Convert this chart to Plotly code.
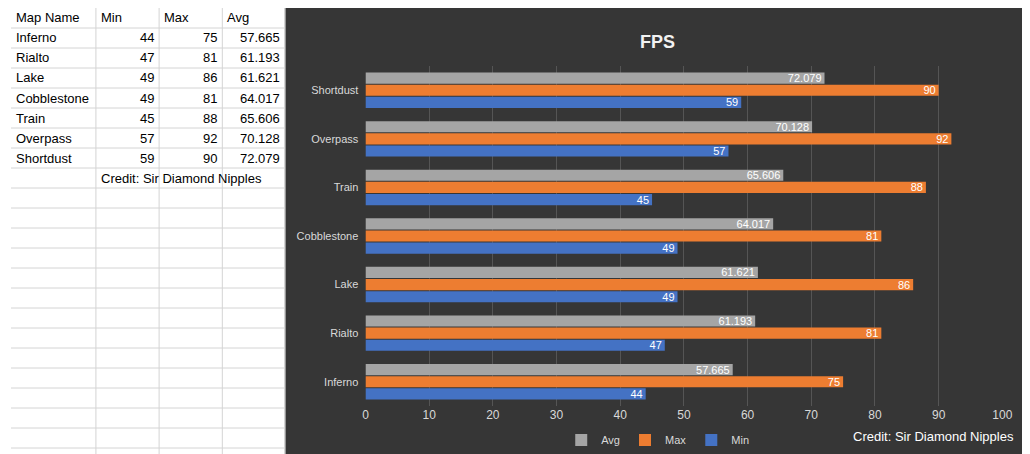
import plotly.graph_objects as go

maps = ["Inferno", "Rialto", "Lake", "Cobblestone", "Train", "Overpass", "Shortdust"]
min_fps = [44, 47, 49, 49, 45, 57, 59]
max_fps = [75, 81, 86, 81, 88, 92, 90]
avg_fps = [57.665, 61.193, 61.621, 64.017, 65.606, 70.128, 72.079]
header = ["Map Name", "Min", "Max", "Avg"]
credit = "Credit: Sir Diamond Nipples"

W, H = 1030, 454
ROW = 20
col_edges = [0, 86, 150, 214, 277]

fig = go.Figure()

def px(x):
    return x / W

def py(y):
    return 1 - y / H

# spreadsheet grid on the left
for x in col_edges[1:]:
    fig.add_shape(type="line", xref="paper", yref="paper", x0=px(x), x1=px(x), y0=0, y1=1,
                  line=dict(color="#d4d4d4", width=1))
for i in range(1, H // ROW + 1):
    fig.add_shape(type="line", xref="paper", yref="paper", x0=0, x1=px(277),
                  y0=py(i * ROW), y1=py(i * ROW), line=dict(color="#d4d4d4", width=1))

cell_font = dict(family="Liberation Sans", size=13, color="black")

def cell(text, row, col, align):
    if align == "left":
        x, anchor = col_edges[col] + 3, "left"
    else:
        x, anchor = col_edges[col + 1] - 3, "right"
    fig.add_annotation(text=text, xref="paper", yref="paper", x=px(x), y=py(row * ROW + 10),
                       xanchor=anchor, yanchor="middle", showarrow=False, font=cell_font)

for c, h in enumerate(header):
    cell(h, 0, c, "left")
for r in range(len(maps)):
    cell(maps[r], r + 1, 0, "left")
    cell(str(min_fps[r]), r + 1, 1, "right")
    cell(str(max_fps[r]), r + 1, 2, "right")
    cell(f"{avg_fps[r]:g}", r + 1, 3, "right")
cell(credit, len(maps) + 1, 1, "left")

# chart background
fig.add_shape(type="rect", xref="paper", yref="paper", x0=px(279), x1=1, y0=0, y1=1,
              fillcolor="#363636", line=dict(color="#363636"), layer="below")

def bars(name, vals, color, fmt):
    return go.Bar(y=maps, x=vals, name=name, orientation="h", marker_color=color,
                  marker_line_width=0,
                  text=[fmt(v) for v in vals], textposition="inside",
                  insidetextanchor="end", textangle=0,
                  textfont=dict(color="white", size=11, family="Liberation Sans"))

fig.add_trace(bars("Min", min_fps, "#4472c4", lambda v: str(v)))
fig.add_trace(bars("Max", max_fps, "#ed7d31", lambda v: str(v)))
fig.add_trace(bars("Avg", avg_fps, "#a5a5a5", lambda v: f"{v:g}"))

fig.update_layout(
    width=W, height=H, margin=dict(l=0, r=0, t=0, b=0),
    paper_bgcolor="white", plot_bgcolor="rgba(0,0,0,0)",
    barmode="group", bargap=0.25, bargroupgap=0.08,
    font=dict(family="Liberation Sans", color="#d9d9d9", size=11),
    xaxis=dict(domain=[px(359), px(1004)], range=[0, 100], dtick=10,
               showgrid=True, gridcolor="#555555", zeroline=False,
               tickfont=dict(size=12, color="#d9d9d9")),
    yaxis=dict(domain=[1 - 398 / H, 1 - 58 / H], showgrid=False,
               tickfont=dict(size=11, color="#d9d9d9"), ticksuffix="  "),
    legend=dict(orientation="h", x=px(655), xanchor="center", y=py(432),
                yanchor="middle", traceorder="reversed", itemwidth=30,
                font=dict(size=11, color="#d9d9d9"), bgcolor="rgba(0,0,0,0)"),
    uniformtext=dict(mode="show", minsize=11),
)
fig.add_annotation(text="<b>FPS</b>", xref="paper", yref="paper", x=px(655), y=py(22),
                   showarrow=False, font=dict(size=18, color="#f2f2f2"))
fig.add_annotation(text=credit, xref="paper", yref="paper", x=px(1018), y=py(438),
                   xanchor="right", showarrow=False, font=dict(size=13, color="white"))

fig.write_html("out.html")
